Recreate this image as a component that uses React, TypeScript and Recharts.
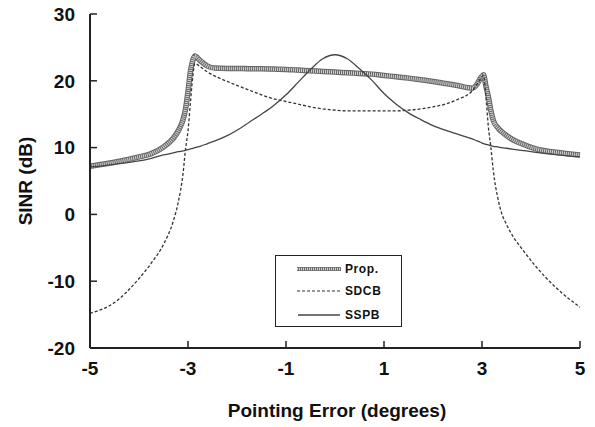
import { LineChart, Line, XAxis, YAxis, Label } from "recharts";

// pointing error (degrees)
const errors = [
  -5, -4.5, -4, -3.75, -3.5, -3.3, -3.2, -3.1, -3.05, -3.0, -2.95, -2.9, -2.86, -2.75, -2.6, -2.45,
  -2.2, -2.0, -1.75, -1.5, -1.25, -1.0, -0.75, -0.5, -0.25, 0, 0.25, 0.5, 0.75, 1.0, 1.25, 1.5,
  1.75, 2.0, 2.25, 2.5, 2.8, 2.9, 2.97, 3.03, 3.08, 3.13, 3.18, 3.23, 3.33, 3.4, 3.5, 3.65, 3.8,
  4.1, 4.5, 5.0,
];

const prop = [
  7.2, 7.8, 8.6, 9.1, 10.1, 11.4, 12.5, 14.2, 15.8, 18.4, 21.4, 23.1, 23.7, 23.0, 22.2, 21.9,
  21.85, 21.85, 21.8, 21.8, 21.75, 21.7, 21.6, 21.5, 21.4, 21.3, 21.2, 21.1, 21.0, 20.8, 20.6, 20.4,
  20.15, 19.9, 19.6, 19.3, 18.9, 19.5, 20.4, 20.9, 19.2, 17.6, 15.6, 14.1, 12.9, 12.4, 11.8, 11.1, 10.6,
  9.8, 9.3, 8.9,
];

const sdcb = [
  -14.8, -13.2, -9.6, -7.3, -4.5, -1.0, 1.8, 6.2, 9.8, 12.5, 16.8, 20.8, 22.6, 22.1, 21.3, 20.7,
  19.9, 19.3, 18.6, 17.9, 17.3, 16.9, 16.5, 16.1, 15.8, 15.6, 15.5, 15.5, 15.5, 15.5, 15.5, 15.6,
  15.8, 16.1, 16.5, 17.2, 18.5, 19.5, 20.3, 20.8, 17.6, 13.1, 10.1, 6.6, 2.2, 0.2, -1.5, -3.5, -5.0,
  -7.8, -10.9, -13.9,
];

const sspb = [
  7.1, 7.5, 8.0, 8.4, 8.9, 9.2, 9.4, 9.5, 9.6, 9.7, 9.8, 9.9, 10.0, 10.2, 10.6, 11.0,
  11.8, 12.6, 13.8, 15.0, 16.3, 17.9, 19.8, 21.7, 23.3, 23.9, 23.3, 21.8, 20.1, 18.1, 16.5, 15.2,
  14.2, 13.3, 12.6, 12.0, 11.3, 11.0, 10.8, 10.6, 10.5, 10.4, 10.3, 10.2, 10.1, 10.0, 9.9, 9.75, 9.6,
  9.3, 8.95, 8.6,
];

const xTicks = [-5, -3, -1, 1, 3, 5];
const yTicks = [-20, -10, 0, 10, 20, 30];

const data = errors.map((e, i) => ({ e, prop: prop[i], sdcb: sdcb[i], sspb: sspb[i] }));

const FONT = "Arial, 'Liberation Sans', sans-serif";
const tickStyle = { fontSize: 19, fontWeight: 700, fill: "#111", fontFamily: FONT };

const YTitle = () => (
  <text
    x={25}
    y={181}
    transform="rotate(-90, 25, 181)"
    textAnchor="middle"
    dominantBaseline="central"
    style={{ fontSize: 19, fontWeight: 700, fill: "#111", fontFamily: FONT }}
  >
    SINR (dB)
  </text>
);

const XTitle = () => (
  <text
    x={337}
    y={417}
    textAnchor="middle"
    style={{ fontSize: 19, fontWeight: 700, fill: "#111", fontFamily: FONT }}
  >
    Pointing Error (degrees)
  </text>
);

function LegendBox() {
  const rows = [
    { label: "Prop.", y: 13 },
    { label: "SDCB", y: 35 },
    { label: "SSPB", y: 59 },
  ];
  return (
    <div
      style={{
        position: "absolute",
        left: 275,
        top: 255,
        width: 125,
        height: 70,
        border: "1.5px solid #222",
        background: "#fff",
      }}
    >
      <svg width={125} height={70}>
        <line x1={21} x2={65} y1={rows[0].y} y2={rows[0].y} stroke="#6a6a6a" strokeWidth={4} />
        <line x1={21} x2={65} y1={rows[0].y} y2={rows[0].y} stroke="#d4d4d4" strokeWidth={2.4} strokeDasharray="1 1" />
        <line x1={21} x2={65} y1={rows[1].y} y2={rows[1].y} stroke="#333" strokeWidth={1.2} strokeDasharray="3 2" />
        <line x1={22} x2={64} y1={rows[2].y} y2={rows[2].y} stroke="#444" strokeWidth={1.3} />
        {rows.map((r) => (
          <text
            key={r.label}
            x={69}
            y={r.y}
            dominantBaseline="central"
            style={{ fontSize: 12, fontWeight: 700, fill: "#111", fontFamily: FONT, letterSpacing: 0.6 }}
          >
            {r.label}
          </text>
        ))}
      </svg>
    </div>
  );
}

export default function App() {
  return (
    <div style={{ position: "absolute", left: 0, top: 0, width: 595, height: 427, background: "#fff" }}>
      <LineChart width={595} height={427} data={data} margin={{ top: 14, right: 15, bottom: 49, left: 30 }}>
        <XAxis
          dataKey="e"
          type="number"
          domain={[-5, 5]}
          ticks={xTicks}
          height={30}
          tickSize={-7}
          tickMargin={21}
          tick={tickStyle}
          axisLine={{ stroke: "#222", strokeWidth: 2 }}
          tickLine={{ stroke: "#222", strokeWidth: 1.5 }}
        >
          <Label content={<XTitle />} />
        </XAxis>
        <XAxis
          xAxisId="top"
          dataKey="e"
          type="number"
          domain={[-5, 5]}
          orientation="top"
          height={0}
          tick={false}
          tickLine={false}
          axisLine={{ stroke: "#333", strokeWidth: 1.5 }}
        />
        <YAxis
          type="number"
          domain={[-20, 30]}
          ticks={yTicks}
          width={60}
          tickSize={-7}
          tickMargin={22}
          tick={tickStyle}
          axisLine={{ stroke: "#222", strokeWidth: 2 }}
          tickLine={{ stroke: "#222", strokeWidth: 1.5 }}
        >
          <Label content={<YTitle />} />
        </YAxis>
        <YAxis
          yAxisId="right"
          orientation="right"
          domain={[-20, 30]}
          width={0}
          tick={false}
          tickLine={false}
          axisLine={{ stroke: "#333", strokeWidth: 1.5 }}
        />
        <Line dataKey="prop" type="monotone" stroke="#666" strokeWidth={5.5} dot={false} isAnimationActive={false} />
        <Line
          dataKey="prop"
          type="monotone"
          stroke="#d4d4d4"
          strokeWidth={3.5}
          strokeDasharray="1 1"
          dot={false}
          isAnimationActive={false}
        />
        <Line
          dataKey="sdcb"
          type="monotone"
          stroke="#333"
          strokeWidth={1.3}
          strokeDasharray="3 2"
          dot={false}
          isAnimationActive={false}
        />
        <Line dataKey="sspb" type="monotone" stroke="#444" strokeWidth={1.3} dot={false} isAnimationActive={false} />
      </LineChart>
      <LegendBox />
    </div>
  );
}
